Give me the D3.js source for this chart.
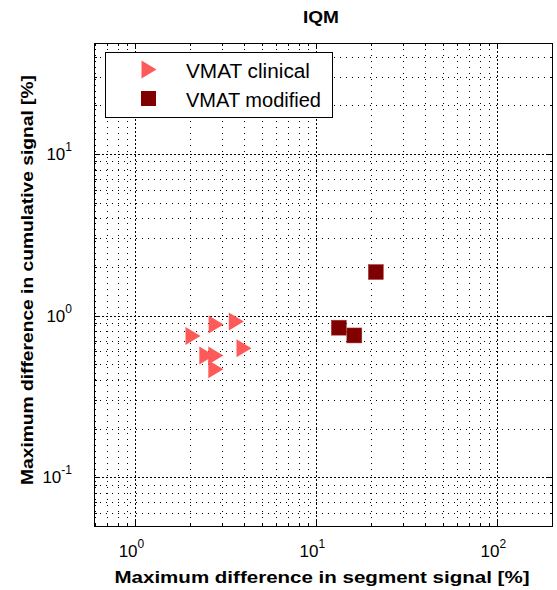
<!DOCTYPE html>
<html>
<head>
<meta charset="utf-8">
<script src="https://cdn.jsdelivr.net/npm/d3@7.9.0/dist/d3.min.js"></script>
<style>
  body { margin: 0; background: #fff; }
  svg { display: block; font-family: "Liberation Sans", Arial, sans-serif; }
</style>
</head>
<body>
<svg id="chart" width="557" height="590"></svg>
<script>
// data
const clinicalX = [2.08, 2.79, 3.61, 3.98, 2.48, 2.78, 2.78];
const clinicalY = [0.749, 0.880, 0.918, 0.628, 0.566, 0.566, 0.466];
const modifiedX = [21.3, 13.3, 16.2];
const modifiedY = [1.86, 0.842, 0.754];
const seriesNames = ['VMAT clinical', 'VMAT modified'];
const xTickExps = [0, 1, 2];
const yTickExps = [-1, 0, 1];

const margin = { left: 94, right: 4, top: 43, bottom: 63 };
const W = 557, H = 590;

const svg = d3.select('#chart');

let x = d3.scaleLog().domain([0.59, 203]).range([margin.left, W - margin.right]);
let y = d3.scaleLog().domain([0.0493, 48.5]).range([H - margin.bottom, margin.top]);

const x0 = x.range()[0], x1 = x.range()[1];
const y0 = y.range()[0], y1 = y.range()[1];

// all log ticks (major + minor) inside the domain
function logTicks(domain) {
    let out = [];
    for (let e = -3; e <= 3; e++) {
        for (let m = 1; m <= 9; m++) {
            let v = m * Math.pow(10, e);
            if (v >= domain[0] && v <= domain[1]) out.push({ v: v, major: m === 1 });
        }
    }
    return out;
}
const xt = logTicks(x.domain());
const yt = logTicks(y.domain());

// grid
let grid = svg.append('g').attr('stroke', '#000').attr('stroke-width', 1).attr('fill', 'none');
xt.forEach(t => {
    grid.append('line')
        .attr('x1', Math.round(x(t.v)) + 0.5).attr('x2', Math.round(x(t.v)) + 0.5)
        .attr('y1', y1).attr('y2', y0)
        .attr('stroke-dasharray', t.major ? '2,2' : '1,5');
});
yt.forEach(t => {
    grid.append('line')
        .attr('y1', Math.round(y(t.v)) + 0.5).attr('y2', Math.round(y(t.v)) + 0.5)
        .attr('x1', x0).attr('x2', x1)
        .attr('stroke-dasharray', t.major ? '2,2' : '1,5');
});

// ticks on all four sides
let ticks = svg.append('g').attr('stroke', '#000').attr('stroke-width', 1);
xt.forEach(t => {
    let px = Math.round(x(t.v)) + 0.5, len = t.major ? 6 : 3;
    ticks.append('line').attr('x1', px).attr('x2', px).attr('y1', y0).attr('y2', y0 - len);
    ticks.append('line').attr('x1', px).attr('x2', px).attr('y1', y1).attr('y2', y1 + len);
});
yt.forEach(t => {
    let py = Math.round(y(t.v)) + 0.5, len = t.major ? 6 : 3;
    ticks.append('line').attr('y1', py).attr('y2', py).attr('x1', x0).attr('x2', x0 + len);
    ticks.append('line').attr('y1', py).attr('y2', py).attr('x1', x1).attr('x2', x1 - len);
});

// box
svg.append('rect')
    .attr('x', x0 + 0.5).attr('y', y1 + 0.5)
    .attr('width', x1 - x0 - 1).attr('height', y0 - y1 - 1)
    .attr('fill', 'none').attr('stroke', '#000').attr('stroke-width', 1);

// tick labels
xTickExps.forEach(e => {
    let t = svg.append('text')
        .attr('x', x(Math.pow(10, e)) - 4).attr('y', y0 + 30)
        .attr('text-anchor', 'middle').attr('font-size', 17);
    t.append('tspan').text('10');
    t.append('tspan').attr('font-size', 12).attr('dy', -9).text(e);
});
yTickExps.forEach(e => {
    let t = svg.append('text')
        .attr('x', x0 - 22).attr('y', y(Math.pow(10, e)) + 6)
        .attr('text-anchor', 'end').attr('font-size', 17);
    t.append('tspan').text('10');
    t.append('tspan').attr('font-size', 12).attr('dy', -9).text(e);
});

// markers
const triColor = '#ff5a5a', sqColor = '#800000';
// right-pointing triangle centred on its bounding box
function triPath(w, h) {
    let p = d3.path();
    p.moveTo(-w / 2, -h / 2);
    p.lineTo(w / 2, 0);
    p.lineTo(-w / 2, h / 2);
    p.closePath();
    return p.toString();
}
const tri = triPath(15, 18);

let clinical = clinicalX.map((v, i) => ({ x: v, y: clinicalY[i] }));
let modified = modifiedX.map((v, i) => ({ x: v, y: modifiedY[i] }));

svg.append('g').selectAll('path').data(clinical).join('path')
    .attr('d', tri)
    .attr('transform', d => `translate(${x(d.x)},${y(d.y)})`)
    .attr('fill', triColor);

svg.append('g').selectAll('rect').data(modified).join('rect')
    .attr('x', d => x(d.x) - 7.5).attr('y', d => y(d.y) - 7.5)
    .attr('width', 15).attr('height', 15)
    .attr('fill', sqColor).attr('stroke', '#a04040').attr('stroke-width', 0.5);

// legend
let lg = svg.append('g');
lg.append('rect')
    .attr('x', 105.5).attr('y', 52.5).attr('width', 227).attr('height', 65)
    .attr('fill', '#fff').attr('stroke', '#000').attr('stroke-width', 1);
lg.append('path')
    .attr('d', tri)
    .attr('transform', 'translate(149,69.5)')
    .attr('fill', triColor);
lg.append('rect')
    .attr('x', 141).attr('y', 91).attr('width', 15).attr('height', 15)
    .attr('fill', sqColor);
const legendWidths = [124, 135];
seriesNames.forEach((name, i) => {
    lg.append('text')
        .attr('x', 186).attr('y', 78 + i * 29)
        .attr('font-size', 20)
        .attr('textLength', legendWidths[i]).attr('lengthAdjust', 'spacingAndGlyphs')
        .text(name);
});

// title and axis labels
svg.append('text')
    .attr('x', 321).attr('y', 23)
    .attr('text-anchor', 'middle').attr('font-weight', 'bold').attr('font-size', 17)
    .attr('textLength', 36).attr('lengthAdjust', 'spacingAndGlyphs')
    .text('IQM');

svg.append('text')
    .attr('x', 322).attr('y', 583)
    .attr('text-anchor', 'middle').attr('font-weight', 'bold').attr('font-size', 16)
    .attr('textLength', 415).attr('lengthAdjust', 'spacingAndGlyphs')
    .text('Maximum difference in segment signal [%]');

svg.append('text')
    .attr('transform', 'translate(33,280) rotate(-90)')
    .attr('text-anchor', 'middle').attr('font-weight', 'bold').attr('font-size', 16)
    .attr('textLength', 410).attr('lengthAdjust', 'spacingAndGlyphs')
    .text('Maximum difference in cumulative signal [%]');
</script>
</body>
</html>
